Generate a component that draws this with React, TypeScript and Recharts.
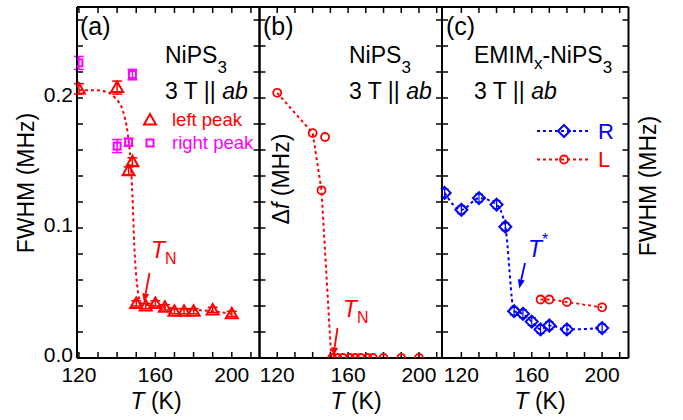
import React from "react";
import { ComposedChart, Scatter, Line, XAxis, YAxis, ErrorBar } from "recharts";

const FONT = '"Liberation Sans", Arial, Helvetica, sans-serif';
const RED = "#ff0000";
const MAGENTA = "#ff00ff";
const BLUE = "#0000ff";

// shared y ticks (MHz)
const yTicks = [0, 0.02, 0.04, 0.06, 0.08, 0.1, 0.12, 0.14, 0.16, 0.18, 0.2, 0.22, 0.24, 0.26];
const xTicks = [120, 130, 140, 150, 160, 170, 180, 190, 200, 210];
const xLabels = [120, 160, 200];

// (a) NiPS3 FWHM
const leftPeakT = [120, 140, 146, 148, 150, 155, 160, 165, 170, 175, 180, 190, 200];
const leftPeakW = [0.207, 0.208, 0.144, 0.151, 0.042, 0.04, 0.042, 0.039, 0.036, 0.036, 0.036, 0.037, 0.034];
const leftPeakErr = [0.004, 0.005, 0.003, 0.003, 0.002, 0.002, 0.002, 0.002, 0.002, 0.002, 0.002, 0.002, 0.002];
const rightPeakT = [120, 140, 146, 148];
const rightPeakW = [0.227, 0.163, 0.166, 0.218];
const rightPeakErr = [0.005, 0.005, 0.003, 0.004];
const fitAT = [120, 128, 134, 139, 143, 145.5, 147, 148, 149, 151, 152.5, 160, 170, 180, 190, 200];
const fitAW = [0.206, 0.206, 0.205, 0.2, 0.19, 0.173, 0.152, 0.125, 0.086, 0.05, 0.042, 0.04, 0.038, 0.037, 0.036, 0.034];

// (b) NiPS3 splitting
const dfT = [120, 140, 145, 147, 151, 154, 157, 161, 164, 167, 171, 174, 180, 190, 200];
const dfV = [0.204, 0.173, 0.129, 0.17, 0, 0, 0, 0, 0, 0, 0, 0, 0, 0, 0];
const fitBT = [120, 140, 145, 150.5, 200];
const fitBV = [0.204, 0.173, 0.129, 0, 0];

// (c) EMIMx-NiPS3
const rT = [110.5, 120, 130, 140, 145, 150, 155, 160, 165, 170, 180, 200];
const rW = [0.127, 0.114, 0.123, 0.118, 0.101, 0.036, 0.034, 0.028, 0.022, 0.025, 0.022, 0.023];
const lT = [165, 170, 180, 200];
const lW = [0.045, 0.045, 0.043, 0.039];

const pts = (xs: number[], ys: number[], es?: number[]) =>
  xs.map((x, i) => ({ x, y: ys[i], e: es ? es[i] : 0.002 }));

const Triangle = (p: any) => (
  <path
    d={`M${p.cx},${p.cy - 6} L${p.cx + 6},${p.cy + 4.5} L${p.cx - 6},${p.cy + 4.5} Z`}
    fill="none"
    stroke={RED}
    strokeWidth={2}
  />
);
const Square = (p: any) => (
  <rect x={p.cx - 3.5} y={p.cy - 3.5} width={7} height={7} fill="none" stroke={MAGENTA} strokeWidth={2} />
);
const Circle = (p: any) => <circle cx={p.cx} cy={p.cy} r={4} fill="none" stroke={RED} strokeWidth={1.8} />;
const Diamond = (p: any) => (
  <path
    d={`M${p.cx},${p.cy - 6} L${p.cx + 6},${p.cy} L${p.cx},${p.cy + 6} L${p.cx - 6},${p.cy} Z`}
    fill="none"
    stroke={BLUE}
    strokeWidth={2}
  />
);

const TOP = 7;
const BOTTOM = 358;

function Panel({
  left,
  right,
  domain,
  yLabels,
  children,
}: {
  left: number;
  right: number;
  domain: [number, number];
  yLabels: boolean;
  children: React.ReactNode;
}) {
  const axisLine = { stroke: "#000", strokeWidth: 2 };
  const tickLine = { stroke: "#000", strokeWidth: 1.5 };
  const tick = { fill: "#000", fontSize: 21, fontFamily: FONT };
  return (
    <div style={{ position: "absolute", left: 0, top: 0 }}>
      <ComposedChart
        width={683}
        height={420}
        margin={{ top: TOP - 1, bottom: 420 - BOTTOM - 40, left: left - 40, right: 683 - right - 1 }}
      >
        <XAxis
          xAxisId={0}
          dataKey="x"
          type="number"
          domain={domain}
          allowDataOverflow
          ticks={xTicks}
          interval={0}
          height={40}
          tickSize={-6}
          tickMargin={15}
          axisLine={axisLine}
          tickLine={tickLine}
          tick={tick}
          tickFormatter={(v: number) => (xLabels.includes(v) ? String(v) : "")}
        />
        <XAxis
          xAxisId="t"
          orientation="top"
          dataKey="x"
          type="number"
          domain={domain}
          allowDataOverflow
          ticks={xTicks}
          interval={0}
          height={1}
          tickSize={-6}
          axisLine={axisLine}
          tickLine={tickLine}
          tickFormatter={() => ""}
        />
        <YAxis
          yAxisId={0}
          dataKey="y"
          type="number"
          domain={[0, 0.27]}
          allowDataOverflow
          ticks={yTicks}
          interval={0}
          width={40}
          tickSize={-6}
          tickMargin={10}
          axisLine={axisLine}
          tickLine={tickLine}
          tick={{ ...tick, dy: -3 }}
          tickFormatter={(v: number) =>
            yLabels && Math.abs(v * 10 - Math.round(v * 10)) < 1e-6 ? v.toFixed(1) : ""
          }
        />
        <YAxis
          yAxisId="r"
          orientation="right"
          dataKey="y"
          type="number"
          domain={[0, 0.27]}
          allowDataOverflow
          ticks={yTicks}
          interval={0}
          width={1}
          tickSize={-6}
          axisLine={axisLine}
          tickLine={tickLine}
          tickFormatter={() => ""}
        />
        {children}
      </ComposedChart>
    </div>
  );
}

function Arrow({ x1, y1, x2, y2, color }: { x1: number; y1: number; x2: number; y2: number; color: string }) {
  const a = Math.atan2(y2 - y1, x2 - x1);
  const L = 9;
  const w = 3.5;
  const bx = x2 - L * Math.cos(a);
  const by = y2 - L * Math.sin(a);
  const px = -Math.sin(a) * w;
  const py = Math.cos(a) * w;
  return (
    <g>
      <line x1={x1} y1={y1} x2={bx} y2={by} stroke={color} strokeWidth={1.8} />
      <polygon points={`${x2},${y2} ${bx + px},${by + py} ${bx - px},${by - py}`} fill={color} />
    </g>
  );
}

export default function App() {
  const dash = "3 3";
  return (
    <div style={{ position: "absolute", left: 0, top: 0, width: 683, height: 420, background: "#fff" }}>
      {/* (a) */}
      <Panel left={77} right={259.5} domain={[119, 214.5]} yLabels>
        <Line
          data={pts(fitAT, fitAW)}
          dataKey="y"
          type="monotone"
          stroke={RED}
          strokeWidth={2}
          strokeDasharray={dash}
          dot={false}
          isAnimationActive={false}
        />
        <Scatter data={pts(rightPeakT, rightPeakW, rightPeakErr)} shape={Square} isAnimationActive={false}>
          <ErrorBar dataKey="e" direction="y" width={5} stroke={MAGENTA} strokeWidth={1.5} />
        </Scatter>
        <Scatter data={pts(leftPeakT, leftPeakW, leftPeakErr)} shape={Triangle} isAnimationActive={false}>
          <ErrorBar dataKey="e" direction="y" width={5} stroke={RED} strokeWidth={1.5} />
        </Scatter>
      </Panel>

      {/* (b) */}
      <Panel left={259.5} right={442} domain={[110, 213]} yLabels={false}>
        <Line
          data={pts(fitBT, fitBV)}
          dataKey="y"
          type="linear"
          stroke={RED}
          strokeWidth={2}
          strokeDasharray={dash}
          dot={false}
          isAnimationActive={false}
        />
        <Scatter data={pts(dfT, dfV)} shape={Circle} isAnimationActive={false} />
      </Panel>

      {/* (c) */}
      <Panel left={442} right={628.5} domain={[109, 215]} yLabels={false}>
        <Line
          data={pts(lT, lW)}
          dataKey="y"
          type="monotone"
          stroke={RED}
          strokeWidth={1.8}
          strokeDasharray={dash}
          dot={false}
          isAnimationActive={false}
        />
        <Line
          data={pts(rT, rW)}
          dataKey="y"
          type="monotone"
          stroke={BLUE}
          strokeWidth={2}
          strokeDasharray={dash}
          dot={false}
          isAnimationActive={false}
        />
        <Scatter data={pts(lT, lW)} shape={Circle} isAnimationActive={false} />
        <Scatter data={pts(rT, rW, rT.map(() => 0.003))} shape={Diamond} isAnimationActive={false}>
          <ErrorBar dataKey="e" direction="y" width={4} stroke={BLUE} strokeWidth={1.2} />
        </Scatter>
      </Panel>

      <svg
        width={683}
        height={420}
        style={{ position: "absolute", left: 0, top: 0, pointerEvents: "none" }}
        fontFamily={FONT}
      >
        {/* axis titles */}
        <text x={26} y={183} fontSize={23} textAnchor="middle" dominantBaseline="central" transform="rotate(-90 26 183)">
          FWHM (MHz)
        </text>
        <text x={648} y={186} fontSize={23} textAnchor="middle" dominantBaseline="central" transform="rotate(-90 648 186)">
          FWHM (MHz)
        </text>
        <text x={281} y={179} fontSize={23} textAnchor="middle" dominantBaseline="central" transform="rotate(-90 281 179)">
          Δ<tspan fontStyle="italic">f</tspan> (MHz)
        </text>
        {[156, 356, 540].map((cx) => (
          <text key={cx} x={cx} y={409} fontSize={23} textAnchor="middle">
            <tspan fontStyle="italic">T</tspan> (K)
          </text>
        ))}

        {/* panel labels */}
        <text x={80} y={35} fontSize={25}>(a)</text>
        <text x={263} y={35} fontSize={25}>(b)</text>
        <text x={446} y={35} fontSize={25}>(c)</text>

        {/* (a) */}
        <text x={165} y={63} fontSize={23}>
          NiPS<tspan fontSize={17} dy={10}>3</tspan>
        </text>
        <text x={165} y={99} fontSize={23}>
          3 T || <tspan fontStyle="italic">ab</tspan>
        </text>
        <Triangle cx={150} cy={120} />
        <text x={172} y={126} fontSize={18.5} fill={RED}>left peak</text>
        <Square cx={150} cy={143} />
        <text x={172} y={149} fontSize={18.5} fill={MAGENTA}>right peak</text>
        <text x={151} y={258} fontSize={23} fill={RED} fontStyle="italic">
          T<tspan fontSize={16} fontStyle="normal" dy={6}>N</tspan>
        </text>
        <Arrow x1={149.5} y1={273} x2={144} y2={302.5} color={RED} />

        {/* (b) */}
        <text x={349} y={63} fontSize={23}>
          NiPS<tspan fontSize={17} dy={10}>3</tspan>
        </text>
        <text x={349} y={99} fontSize={23}>
          3 T || <tspan fontStyle="italic">ab</tspan>
        </text>
        <text x={343} y={317} fontSize={23} fill={RED} fontStyle="italic">
          T<tspan fontSize={16} fontStyle="normal" dy={6}>N</tspan>
        </text>
        <Arrow x1={337.5} y1={328} x2={333.3} y2={356.5} color={RED} />

        {/* (c) */}
        <text x={474} y={63} fontSize={23}>
          EMIM<tspan fontSize={17} dy={6}>x</tspan>
          <tspan dy={-6}>-NiPS</tspan>
          <tspan fontSize={17} dy={10}>3</tspan>
        </text>
        <text x={474} y={99} fontSize={23}>
          3 T || <tspan fontStyle="italic">ab</tspan>
        </text>
        <line x1={537} y1={131} x2={588} y2={131} stroke={BLUE} strokeWidth={1.8} strokeDasharray={dash} />
        <Diamond cx={564} cy={131} />
        <text x={598} y={138.5} fontSize={22} fill={BLUE}>R</text>
        <line x1={537} y1={159.5} x2={588} y2={159.5} stroke={RED} strokeWidth={1.8} strokeDasharray={dash} />
        <Circle cx={564} cy={159.5} />
        <text x={598} y={167} fontSize={22} fill={RED}>L</text>
        <text x={528} y={257} fontSize={23} fill={BLUE} fontStyle="italic">
          T<tspan fontSize={16} fontStyle="normal" dy={-12}>*</tspan>
        </text>
        <Arrow x1={525} y1={263} x2={519.3} y2={288.5} color={BLUE} />
      </svg>
    </div>
  );
}
